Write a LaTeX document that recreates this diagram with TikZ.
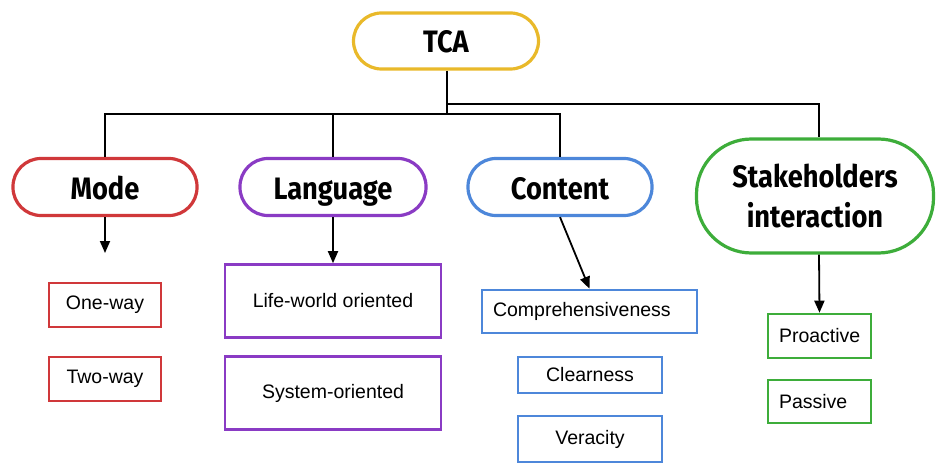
\documentclass[tikz,border=0pt]{standalone}
\usepackage{fontspec}
\setmainfont{Liberation Sans}
\newfontfamily\headfont{Fira Sans}[FakeStretch=0.88]
\usetikzlibrary{arrows.meta}
\definecolor{cyellow}{HTML}{E9B92A}
\definecolor{cred}{HTML}{D0383A}
\definecolor{cpurple}{HTML}{8A3BC4}
\definecolor{cblue}{HTML}{4D87DA}
\definecolor{cgreen}{HTML}{3DAD3A}
\tikzset{
  head/.style={draw=#1, line width=3.2pt, rounded corners=28pt, fill=white,
    inner sep=0pt, align=center,
    font=\headfont\bfseries\fontsize{31}{40}\selectfont},
  oneline/.style={text height=28pt, text depth=4pt},
  item/.style={draw=#1, line width=2.6pt, fill=white, inner sep=0pt,
    align=center, font=\fontsize{19.5}{23}\selectfont},
  link/.style={line width=1.8pt, black},
  arr/.style={link, -{Triangle[length=12pt,width=10pt]}},
}
\begin{document}
\begin{tikzpicture}[x=1pt,y=-1pt]
\useasboundingbox (0,0) rectangle (936,465);

% top level
\node[head=cyellow, oneline, minimum width=185pt, minimum height=56pt] (tca) at (446,41) {TCA};

% categories
\node[head=cred,    oneline, minimum width=184pt, minimum height=57pt] (mode)    at (105,187) {Mode};
\node[head=cpurple, oneline, minimum width=186pt, minimum height=57pt] (lang)    at (333,187) {Language};
\node[head=cblue,   oneline, minimum width=184pt, minimum height=57pt] (content) at (560,187) {Content};
\node[head=cgreen,  minimum width=237pt, minimum height=114pt, rounded corners=55pt] (sh) at (815,196) {Stakeholders\\interaction};

% items
\node[item=cred, minimum width=112pt, minimum height=44pt] (oneway) at (105,305) {One-way};
\node[item=cred, minimum width=112pt, minimum height=44pt] (twoway) at (105,379) {Two-way};

\node[item=cpurple, minimum width=216pt, minimum height=73pt] (life) at (333,301) {Life-world oriented};
\node[item=cpurple, minimum width=216pt, minimum height=73pt] (sys)  at (333,393) {System-oriented};

\node[item=cblue, minimum width=215pt, minimum height=43pt, inner xsep=11pt, text width=193pt, align=left] (comp) at (589.5,311.5) {Comprehensiveness};
\node[item=cblue, minimum width=144pt, minimum height=36pt] (clear) at (590,375) {Clearness};
\node[item=cblue, minimum width=144pt, minimum height=46pt] (ver)   at (590,439) {Veracity};

\node[item=cgreen, minimum width=103pt, minimum height=44pt, inner xsep=11pt, text width=81pt, align=left] (pro) at (819.5,336) {Proactive};
\node[item=cgreen, minimum width=103pt, minimum height=43pt, inner xsep=11pt, text width=81pt, align=left] (pas) at (819.5,401.5) {Passive};

% tree connectors
\coordinate (jl) at (447,114);
\coordinate (jr) at (447,104);
\coordinate (shtop) at ([xshift=4pt]sh.north);
\draw[link] (tca.south -| jl) -- (jl);
\draw[link] (mode.north) -- (mode.north |- jl) -- (content.north |- jl) -- (content.north);
\draw[link] (lang.north) -- (lang.north |- jl);
\draw[link] (jr) -| (shtop);

% arrows down to items
\coordinate (modetip) at (105,253);
\draw[arr] (mode.south) -- (modetip);
\draw[arr] (lang.south) -- (life.north);
\draw[arr] (content.south) -- (comp.north);
\draw[arr] ([xshift=4pt]sh.south) -- (pro.north);
\end{tikzpicture}
\end{document}
